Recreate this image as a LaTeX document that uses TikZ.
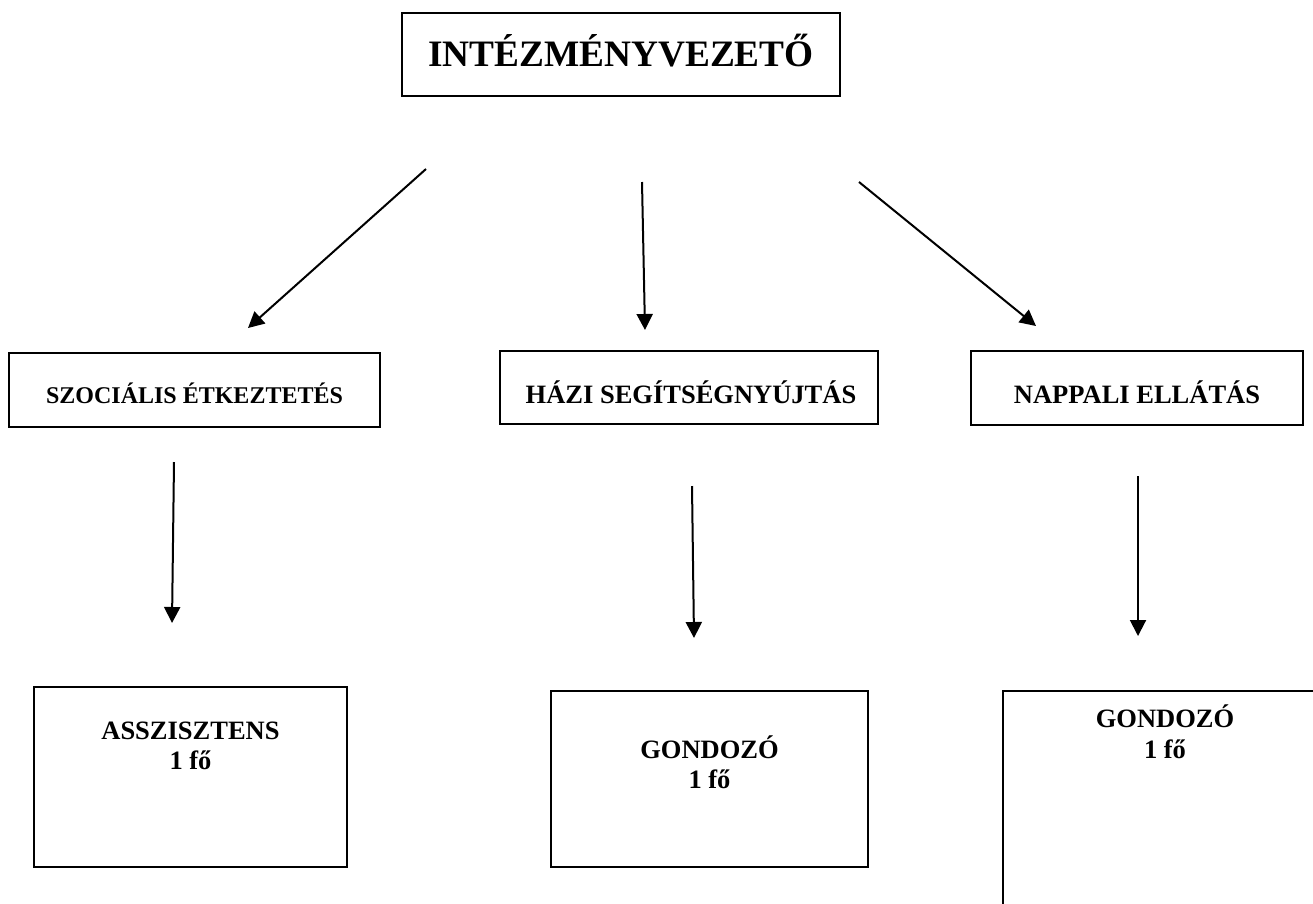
\documentclass[tikz,border=0pt]{standalone}
\usepackage{fontspec}
\setmainfont{Liberation Serif}
\usetikzlibrary{arrows.meta}
\begin{document}
\begin{tikzpicture}[x=1pt,y=-1pt,
  box/.style={draw,line width=2pt,inner sep=0pt,rectangle},
  lbl/.style={anchor=base,inner sep=0pt,font=\fontsize{26.5}{30}\selectfont\bfseries},
  arr/.style={line width=2pt,-{Triangle[length=16pt,width=16pt]}}]
\useasboundingbox (0,0) rectangle (1313,903);
\clip (0,0) rectangle (1313,903);
% boxes
\node[box,minimum width=438pt,minimum height=83pt] (top) at (621,54.5) {};
\node[box,minimum width=371pt,minimum height=74pt] (szoc) at (194.5,390) {};
\node[box,minimum width=378pt,minimum height=73pt] (hazi) at (689,387.5) {};
\node[box,minimum width=332pt,minimum height=74pt] (napp) at (1137,388) {};
\node[box,minimum width=313pt,minimum height=180pt] (assz) at (190.5,777) {};
\node[box,minimum width=317pt,minimum height=176pt] (gond1) at (709.5,779) {};
\node[box,minimum width=324pt,minimum height=250pt] (gond2) at (1165,816) {};
% texts
\node[lbl,font=\fontsize{37.3}{40}\selectfont\bfseries] (topt) at (621,66) {INTÉZMÉNYVEZETŐ};
\node[lbl,font=\fontsize{24}{28}\selectfont\bfseries] (szoct) at (194.5,403) {SZOCIÁLIS ÉTKEZTETÉS};
\node[lbl] (hazit) at (691,403) {HÁZI SEGÍTSÉGNYÚJTÁS};
\node[lbl] (nappt) at (1137,403) {NAPPALI ELLÁTÁS};
\node[lbl] (asszt1) at (190.5,739) {ASSZISZTENS};
\node[lbl] (asszt2) at (190.5,769) {1 fő};
\node[lbl] (gond1t1) at (709.5,758) {GONDOZÓ};
\node[lbl] (gond1t2) at (709.5,788) {1 fő};
\node[lbl] (gond2t1) at (1165,727) {GONDOZÓ};
\node[lbl] (gond2t2) at (1165,758) {1 fő};
% arrow end points
\coordinate (a1s) at (426,169);  \coordinate (a1e) at (248,328);
\coordinate (a2s) at (642,182);  \coordinate (a2e) at (645,330);
\coordinate (a3s) at (859,182);  \coordinate (a3e) at (1036,326);
\coordinate (a4s) at (174,462);  \coordinate (a4e) at (172,623);
\coordinate (a5s) at (692,486);  \coordinate (a5e) at (694,638);
\coordinate (a6s) at (1138,476); \coordinate (a6e) at (1138,636);
\draw[arr] (a1s) -- (a1e);
\draw[arr] (a2s) -- (a2e);
\draw[arr] (a3s) -- (a3e);
\draw[arr] (a4s) -- (a4e);
\draw[arr] (a5s) -- (a5e);
\draw[arr] (a6s) -- (a6e);
\end{tikzpicture}
\end{document}
